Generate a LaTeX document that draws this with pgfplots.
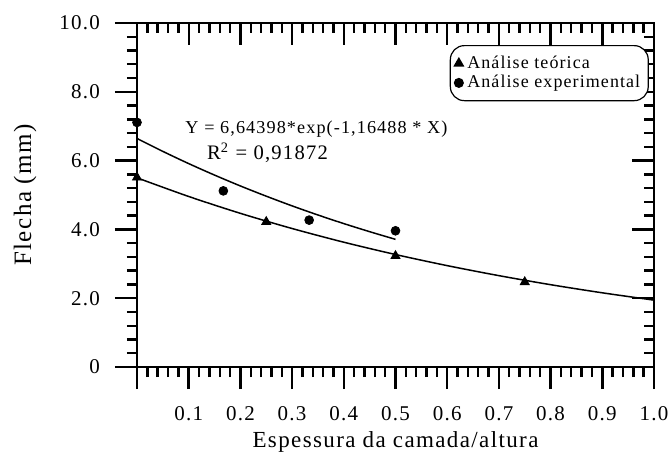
\documentclass[border=0pt]{standalone}
\usepackage{pgfplots}
\pgfplotsset{compat=1.18}
\usepackage{fontspec}
\setmainfont{Liberation Serif}[LetterSpace=6]
\begin{document}
\begin{tikzpicture}
\useasboundingbox (-68.5pt,-42.5pt) rectangle (266pt,183.5pt);
\pgfplotsset{
  common/.style={
    at={(0pt,0pt)}, anchor=south west,
    scale only axis, width=258.5pt, height=172pt,
    xmin=0, xmax=1, ymin=0, ymax=10,
    xtick={0,0.1,0.2,0.3,0.4,0.5,0.6,0.7,0.8,0.9,1.0},
    ytick={0,2,4,6,8,10},
    minor x tick num=4, minor y tick num=4,
    major tick length=11pt, minor tick length=5pt,
    every tick/.style={black, line width=1.2pt},
    axis line style={line width=1.3pt},
    /pgf/number format/assume math mode=true,
  }
}
\begin{axis}[common,
  xtick pos=right, ytick pos=right, tick align=inside,
  xticklabels={}, yticklabels={},
]
\end{axis}
\begin{axis}[common,
  xtick pos=left, ytick pos=left, tick align=outside,
  xticklabels={,0.1,0.2,0.3,0.4,0.5,0.6,0.7,0.8,0.9,1.0},
  yticklabels={0,2.0,4.0,6.0,8.0,10.0},
  tick label style={font=\fontsize{10.5}{12}\selectfont},
  xticklabel style={yshift=-5pt},
  yticklabel style={xshift=-4pt},
  clip=false,
  legend style={at={(axis description cs:0.99,0.936)}, anchor=north east,
    draw=black, rounded corners=7pt, line width=0.6pt,
    font=\fontsize{9}{10.5}\selectfont, inner xsep=2pt, inner ysep=3pt,
    row sep=-2pt},
  legend cell align=left,
]
\addplot[only marks, mark=triangle*, mark size=2.6pt, black] coordinates {
  (0,5.51) (0.25,4.22) (0.5,3.23) (0.75,2.47)};
\addlegendentry{Análise teórica}
\addplot[only marks, mark=*, mark size=2.2pt, black] coordinates {
  (0,7.11) (0.167,5.12) (0.333,4.27) (0.5,3.96)};
\addlegendentry{Análise experimental}
\addplot[black, line width=0.75pt, smooth, forget plot] coordinates {
  (0,6.644) (0.05,6.268) (0.1,5.913) (0.15,5.579) (0.2,5.263) (0.25,4.966)
  (0.3,4.684) (0.35,4.419) (0.4,4.169) (0.45,3.934) (0.5,3.711)};
\addplot[black, line width=0.75pt, smooth, forget plot] coordinates {
  (0,5.5) (0.1,4.957) (0.2,4.467) (0.3,4.026) (0.4,3.628) (0.5,3.270)
  (0.6,2.947) (0.7,2.656) (0.8,2.393) (0.9,2.157) (1.0,1.944)};
\node[anchor=base west, font=\fontsize{9.1}{11}\selectfont, inner sep=0pt] at (axis cs:0.093,6.80) {Y = 6,64398*exp(-1,16488 * X)};
\node[anchor=base west, font=\fontsize{10.3}{12}\selectfont, inner sep=0pt] at (axis cs:0.135,6.02) {R\textsuperscript{2} = 0,91872};
\node[font=\fontsize{11.5}{14}\selectfont, anchor=base] at ([yshift=-40pt]rel axis cs:0.5,0) {Espessura da camada/altura};
\node[font=\fontsize{12.5}{14}\selectfont, rotate=90, anchor=center] at ([xshift=-56pt]rel axis cs:0,0.5) {Flecha (mm)};
\end{axis}
\end{tikzpicture}
\end{document}
